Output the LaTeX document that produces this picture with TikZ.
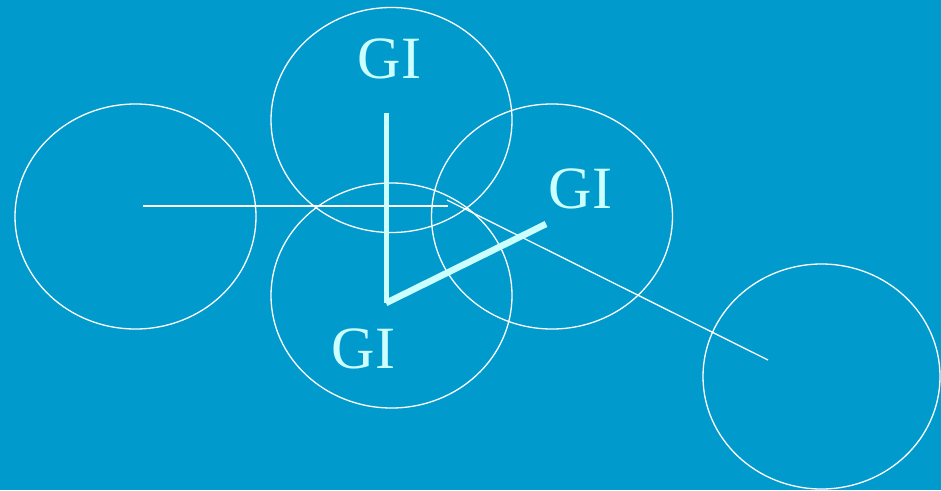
\documentclass[tikz,border=0pt]{standalone}
\usepackage{fontspec}
\setmainfont{Liberation Serif}
\usetikzlibrary{shapes.geometric}
\definecolor{bg}{HTML}{009BCC}
\definecolor{lcyan}{HTML}{CCFFFF}
\begin{document}
\begin{tikzpicture}[x=1pt,y=-1pt,
  cell/.style={ellipse,draw=white,line width=1.3pt,minimum width=241pt,minimum height=225pt,inner sep=0pt},
  thinline/.style={draw=white,line width=1.3pt},
  thickline/.style={draw=lcyan,line width=5.5pt},
  gi/.style={text=lcyan,font=\fontsize{60}{60}\selectfont,anchor=base,inner sep=0pt}]
\fill[bg] (0,0) rectangle (941,490);
\useasboundingbox (0,0) rectangle (941,490);
\node[cell] (e1) at (135.5,216.5) {};
\node[cell] (e2) at (391.5,120) {};
\node[cell] (e3) at (552,216.5) {};
\node[cell] (e4) at (391.5,295.5) {};
\node[cell,minimum width=237pt] (e5) at (821.5,376.5) {};
\coordinate (a) at (143,206);
\coordinate (b) at (448,206);
\coordinate (c) at (447,200);
\coordinate (d) at (768,360);
\draw[thinline] (a) -- (b);
\draw[thinline] (c) -- (d);
\coordinate (p) at (386,113);
\coordinate (q) at (386,303);
\coordinate (r) at (546,224);
\draw[thickline,line width=5pt] (p) -- (q);
\draw[thickline,line width=6.5pt] (q) -- (r);
\node[gi] (t1) at (389.5,78) {GI};
\node[gi] (t2) at (580.5,208) {GI};
\node[gi] (t3) at (363.5,368) {GI};
\end{tikzpicture}
\end{document}
